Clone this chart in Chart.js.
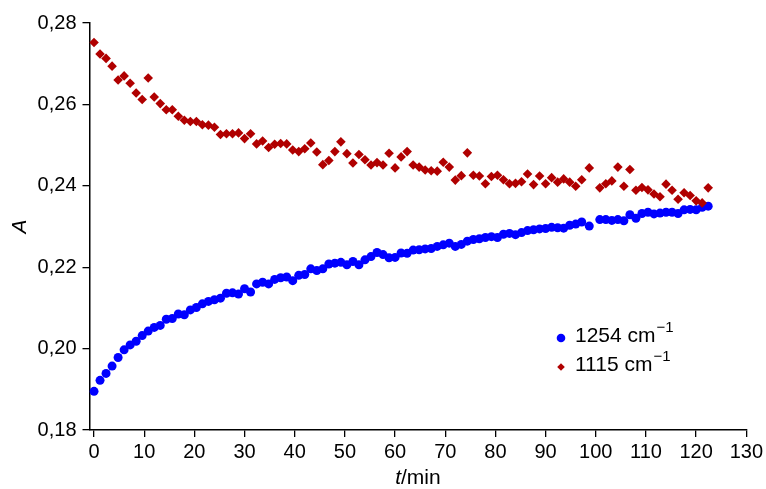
<!DOCTYPE html>
<html>
<head>
<meta charset="utf-8">
<script src="https://cdn.jsdelivr.net/npm/chart.js@4.4.1/dist/chart.umd.min.js"></script>
<style>
  html, body { margin: 0; padding: 0; background: #fff; }
  #wrap { width: 766px; height: 489px; }
</style>
</head>
<body>
<div id="wrap"><canvas id="chart" width="766" height="489"></canvas></div>
<script>
// time of each reading, minutes
const minutes = [
  0, 1.2, 2.4, 3.6, 4.8, 6, 7.2, 8.4, 9.6, 10.8,
  12, 13.2, 14.4, 15.6, 16.8, 18, 19.2, 20.4, 21.6, 22.8,
  24, 25.2, 26.4, 27.6, 28.8, 30, 31.2, 32.4, 33.6, 34.8,
  36, 37.2, 38.4, 39.6, 40.8, 42, 43.2, 44.4, 45.6, 46.8,
  48, 49.2, 50.4, 51.6, 52.8, 54, 55.2, 56.4, 57.6, 58.8,
  60, 61.2, 62.4, 63.6, 64.8, 66, 67.2, 68.4, 69.6, 70.8,
  72, 73.2, 74.4, 75.6, 76.8, 78, 79.2, 80.4, 81.6, 82.8,
  84, 85.2, 86.4, 87.6, 88.8, 90, 91.2, 92.4, 93.6, 94.8,
  96, 97.2, 98.7,
  100.8, 102, 103.2, 104.4, 105.6, 106.8, 108, 109.2, 110.4, 111.6,
  112.8, 114, 115.2, 116.4, 117.6, 118.8, 120, 121.2, 122.4
];

// absorbance at 1254 cm-1 (blue circles)
const abs1254 = [
  0.1895, 0.1922, 0.1939, 0.1957, 0.1978, 0.1997, 0.2009, 0.2018, 0.2032, 0.2043,
  0.2052, 0.2057, 0.2072, 0.2074, 0.2085, 0.2083, 0.2095, 0.2101, 0.2110, 0.2116,
  0.2120, 0.2124, 0.2136, 0.2137, 0.2134, 0.2147, 0.2139, 0.2159, 0.2163, 0.2159,
  0.2170, 0.2174, 0.2176, 0.2167, 0.2180, 0.2182, 0.2196, 0.2192, 0.2196, 0.2208,
  0.2210, 0.2212, 0.2206, 0.2214, 0.2206, 0.2218, 0.2226, 0.2236, 0.2231, 0.2223,
  0.2224, 0.2235, 0.2234, 0.2242, 0.2243, 0.2245, 0.2246, 0.2251, 0.2255, 0.2259,
  0.2251, 0.2256, 0.2264, 0.2268, 0.2270, 0.2273, 0.2275, 0.2273, 0.2281, 0.2283,
  0.2280, 0.2285, 0.2290, 0.2292, 0.2294, 0.2295, 0.2298, 0.2297, 0.2296, 0.2303,
  0.2306, 0.2311, 0.2301,
  0.2317, 0.2317, 0.2315, 0.2317, 0.2314, 0.2329, 0.2320, 0.2332, 0.2335, 0.2331,
  0.2333, 0.2335, 0.2335, 0.2332, 0.2341, 0.2342, 0.2341, 0.2347, 0.2350
];

// absorbance at 1115 cm-1 (red diamonds)
const abs1115 = [
  0.2752, 0.2724, 0.2713, 0.2694, 0.2660, 0.2670, 0.2652, 0.2628, 0.2612, 0.2665,
  0.2618, 0.2602, 0.2587, 0.2587, 0.2571, 0.2561, 0.2558, 0.2558, 0.2550, 0.2549,
  0.2544, 0.2526, 0.2528, 0.2528, 0.2530, 0.2516, 0.2528, 0.2503, 0.2510, 0.2494,
  0.2502, 0.2504, 0.2503, 0.2488, 0.2484, 0.2491, 0.2505, 0.2483, 0.2452, 0.2462,
  0.2484, 0.2508, 0.2479, 0.2456, 0.2477, 0.2464, 0.2451, 0.2457, 0.2451, 0.2480,
  0.2444, 0.2471, 0.2484, 0.2451, 0.2446, 0.2439, 0.2437, 0.2436, 0.2458, 0.2446,
  0.2414, 0.2425, 0.2481, 0.2426, 0.2424, 0.2405, 0.2423, 0.2426, 0.2415, 0.2405,
  0.2406, 0.2410, 0.2429, 0.2403, 0.2424, 0.2405, 0.2420, 0.2409, 0.2417, 0.2409,
  0.2399, 0.2415, 0.2444,
  0.2395, 0.2405, 0.2412, 0.2446, 0.2399, 0.2440, 0.2389, 0.2396, 0.2390, 0.2380,
  0.2373, 0.2404, 0.2389, 0.2367, 0.2383, 0.2376, 0.2363, 0.2358, 0.2395
];

const seriesNames = ['1254 cm', '1115 cm'];
const waveSup = '\u22121';
const xTicks = [0, 10, 20, 30, 40, 50, 60, 70, 80, 90, 100, 110, 120, 130];
const yTicks = [0.18, 0.20, 0.22, 0.24, 0.26, 0.28];

const FONT = '"Liberation Sans", Arial, sans-serif';
const BLUE = '#0000ff';
const RED = '#b00000';

function toPoints(ys) {
  return minutes.map((t, i) => ({ x: t, y: ys[i] }));
}

// legend drawn inside the plot, like the original
const innerLegend = {
  id: 'innerLegend',
  afterDraw(chart) {
    const ctx = chart.ctx;
    const rows = [
      { y: 338, style: 'circle', r: 4.3, color: BLUE, name: seriesNames[0] },
      { y: 367, style: 'rectRot', r: 3.8, color: RED, name: seriesNames[1] }
    ];
    ctx.save();
    rows.forEach(row => {
      ctx.fillStyle = row.color;
      ctx.strokeStyle = row.color;
      Chart.helpers.drawPoint(ctx, { pointStyle: row.style, radius: row.r, rotation: 0, borderWidth: 0 }, 561, row.y);
      ctx.fillStyle = '#000';
      ctx.textBaseline = 'middle';
      ctx.font = '21px ' + FONT;
      ctx.fillText(row.name, 575, row.y - 2);
      const w = ctx.measureText(row.name).width;
      ctx.font = '15px ' + FONT;
      ctx.fillText(waveSup, 575 + w + 1, row.y - 10);
    });
    ctx.restore();
  }
};

// x axis title with italic t
const xTitle = {
  id: 'xTitle',
  afterDraw(chart) {
    const ctx = chart.ctx;
    const area = chart.chartArea;
    ctx.save();
    ctx.fillStyle = '#000';
    ctx.textBaseline = 'middle';
    ctx.font = 'italic 21px ' + FONT;
    const w1 = ctx.measureText('t').width;
    ctx.font = '21px ' + FONT;
    const w2 = ctx.measureText('/min').width;
    const x0 = (area.left + area.right) / 2 - (w1 + w2) / 2;
    ctx.font = 'italic 21px ' + FONT;
    ctx.fillText('t', x0, 478);
    ctx.font = '21px ' + FONT;
    ctx.fillText('/min', x0 + w1, 478);
    ctx.restore();
  }
};

new Chart(document.getElementById('chart'), {
  type: 'scatter',
  data: {
    datasets: [
      {
        label: seriesNames[0] + '\u207B\u00B9',
        data: toPoints(abs1254),
        pointStyle: 'circle',
        pointRadius: 4.5,
        pointBorderWidth: 0,
        backgroundColor: BLUE,
        borderColor: BLUE,
        order: 1
      },
      {
        label: seriesNames[1] + '\u207B\u00B9',
        data: toPoints(abs1115),
        pointStyle: 'rectRot',
        pointRadius: 4.8,
        pointBorderWidth: 0,
        backgroundColor: RED,
        borderColor: RED,
        order: 0
      }
    ]
  },
  options: {
    responsive: false,
    animation: false,
    devicePixelRatio: 1,
    layout: { padding: { top: 23, right: 4, left: 0, bottom: 0 } },
    plugins: {
      legend: { display: false },
      tooltip: { enabled: false }
    },
    scales: {
      x: {
        type: 'linear',
        min: -0.9,
        max: 130,
        afterBuildTicks: s => { s.ticks = xTicks.map(v => ({ value: v })); },
        afterFit: s => { s.height = 59; },
        grid: { display: true, drawOnChartArea: false, drawTicks: true, tickLength: 7, color: '#000', lineWidth: 1.3 },
        border: { display: true, color: '#000', width: 1.5 },
        ticks: { color: '#000', font: { family: FONT, size: 20 }, padding: 3, maxRotation: 0 }
      },
      y: {
        type: 'linear',
        min: 0.18,
        max: 0.28,
        afterBuildTicks: s => { s.ticks = yTicks.map(v => ({ value: v })); },
        afterFit: s => { s.width = 89.5; },
        grid: { display: true, drawOnChartArea: false, drawTicks: true, tickLength: 7, color: '#000', lineWidth: 1.3 },
        border: { display: true, color: '#000', width: 1.5 },
        ticks: {
          color: '#000',
          font: { family: FONT, size: 20 },
          padding: 6,
          callback: v => v.toFixed(2).replace('.', ',')
        },
        title: {
          display: true,
          text: 'A',
          color: '#000',
          font: { family: FONT, size: 21, style: 'italic' },
          padding: { top: 8, bottom: 0 }
        }
      }
    }
  },
  plugins: [innerLegend, xTitle]
});
</script>
</body>
</html>
